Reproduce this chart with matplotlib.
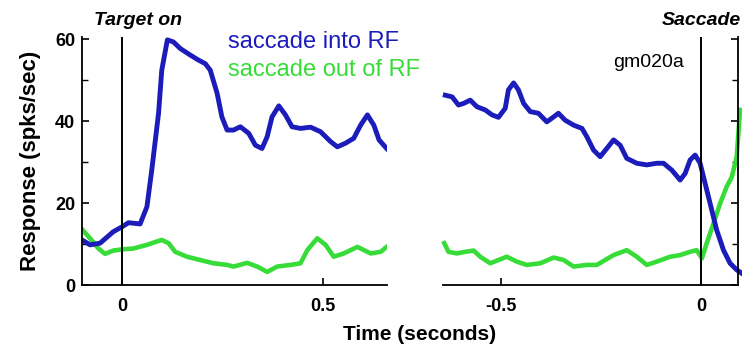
import matplotlib
matplotlib.use("Agg")
import matplotlib.pyplot as plt
from matplotlib.ticker import MultipleLocator

plt.rcParams['font.family'] = ['Liberation Sans', 'DejaVu Sans']

# Aligned on target onset (seconds)
t_target = [-0.10, -0.08, -0.055, -0.022, 0.0, 0.016, 0.045, 0.062, 0.074, 0.091, 0.099,
            0.113, 0.128, 0.145, 0.17, 0.19, 0.2075, 0.22, 0.237, 0.249, 0.262, 0.278,
            0.295, 0.316, 0.3325, 0.349, 0.362, 0.374, 0.391, 0.4075, 0.424, 0.445, 0.47,
            0.495, 0.52, 0.537, 0.5575, 0.578, 0.595, 0.612, 0.628, 0.641, 0.66]
into_target = [11.0, 9.8, 10.2, 13.0, 14.2, 15.2, 14.9, 19.1, 28.0, 41.9, 52.4,
               59.8, 59.3, 57.7, 56.1, 54.9, 54.0, 52.4, 46.8, 41.0, 37.8, 37.8,
               38.6, 37.0, 34.1, 33.3, 36.2, 41.0, 43.7, 41.5, 38.6, 38.2, 38.5,
               37.4, 35.0, 33.7, 34.6, 35.8, 39.0, 41.5, 39.0, 35.4, 33.3]

t_target_out = [-0.10, -0.08, -0.059, -0.0425, -0.022, 0.0, 0.028, 0.062, 0.099, 0.116,
                0.1325, 0.162, 0.195, 0.228, 0.262, 0.278, 0.312, 0.337, 0.362, 0.387,
                0.42, 0.445, 0.462, 0.487, 0.5075, 0.528, 0.553, 0.587, 0.62, 0.645, 0.66]
out_target = [13.6, 11.4, 8.9, 7.6, 8.4, 8.7, 8.9, 9.8, 11.0, 10.2,
              8.1, 6.9, 6.1, 5.3, 4.9, 4.5, 5.4, 4.5, 3.2, 4.5,
              4.9, 5.3, 8.5, 11.4, 9.8, 6.9, 7.7, 9.3, 7.7, 8.1, 9.3]

# Aligned on saccade onset (seconds)
t_sacc = [-0.64, -0.623, -0.607, -0.594, -0.5775, -0.561, -0.54, -0.523, -0.507, -0.49,
          -0.482, -0.469, -0.457, -0.444, -0.4275, -0.407, -0.386, -0.369, -0.357, -0.34,
          -0.319, -0.298, -0.286, -0.269, -0.2525, -0.236, -0.219, -0.2025, -0.186, -0.161,
          -0.136, -0.111, -0.094, -0.073, -0.0525, -0.04, -0.0275, -0.015, -0.0025, 0.01,
          0.0225, 0.039, 0.056, 0.0725, 0.089, 0.101]
into_sacc = [46.3, 45.9, 43.9, 44.3, 45.1, 43.5, 42.7, 41.5, 40.9, 43.1,
             47.6, 49.3, 47.6, 44.3, 42.3, 41.9, 39.8, 41.0, 41.9, 40.2,
             39.0, 38.2, 36.2, 32.9, 31.3, 33.3, 35.4, 34.1, 30.9, 29.7,
             29.3, 29.7, 29.7, 28.0, 25.6, 27.2, 30.5, 31.7, 29.7, 24.8,
             19.9, 13.4, 8.5, 5.3, 3.7, 2.9]

t_sacc_out = [-0.6425, -0.632, -0.611, -0.59, -0.569, -0.5525, -0.5275, -0.507, -0.486,
              -0.461, -0.436, -0.4025, -0.369, -0.344, -0.319, -0.286, -0.261, -0.219,
              -0.186, -0.161, -0.136, -0.111, -0.0775, -0.0525, -0.0275, -0.011, 0.002,
              0.014, 0.031, 0.0475, 0.064, 0.077, 0.089, 0.0975]
out_sacc = [10.2, 8.1, 7.7, 8.1, 8.4, 6.9, 5.3, 6.1, 6.9,
            5.7, 4.9, 5.3, 6.7, 6.1, 4.5, 4.9, 4.9, 7.3,
            8.5, 6.9, 4.9, 5.7, 6.9, 7.3, 8.1, 8.5, 6.5,
            10.2, 15.0, 19.9, 24.0, 26.4, 31.3, 42.7]

left_ticks = [0, 0.5]
left_labels = ['0', '0.5']
right_ticks = [-0.5, 0]
right_labels = ['-0.5', '0']
y_ticks = [0, 20, 40, 60]

BLUE = '#1c1cba'
GREEN = '#38dc38'

fig = plt.figure(figsize=(7.42, 3.51), dpi=100)
ax1 = fig.add_axes([0.1105, 0.188, 0.4106, 0.7066])
ax2 = fig.add_axes([0.5974, 0.188, 0.3976, 0.7066])

for ax in (ax1, ax2):
    ax.set_ylim(0, 60.5)
    ax.spines['top'].set_visible(False)
    for s in ax.spines.values():
        s.set_linewidth(1.3)
    ax.tick_params(direction='in', length=5, width=1.2, labelsize=13, pad=9)
    ax.tick_params(which='minor', direction='in', length=4, width=1.0)
    ax.yaxis.set_minor_locator(MultipleLocator(10))

# Left panel: target onset
ax1.set_xlim(-0.1, 0.66)
ax1.spines['right'].set_visible(False)
ax1.plot(t_target_out, out_target, color=GREEN, lw=3.3, solid_joinstyle='round')
ax1.plot(t_target, into_target, color=BLUE, lw=3.5, solid_joinstyle='round')
ax1.axvline(0, color='black', lw=1.4)
ax1.set_xticks(left_ticks)
ax1.set_xticklabels(left_labels, fontweight='bold')
ax1.set_yticks(y_ticks)
ax1.set_yticklabels([str(v) for v in y_ticks], fontweight='bold')
ax1.tick_params(axis='y', pad=5)
ax1.set_ylabel('Response (spks/sec)', fontsize=16, fontweight='bold', labelpad=10)
ax1.text(0.039, 64.6, 'Target on', ha='center', va='center', fontsize=14,
         fontweight='bold', style='italic')
ax1.text(0.265, 59.3, 'saccade into RF', color=BLUE, ha='left', va='center', fontsize=17)
ax1.text(0.265, 52.4, 'saccade out of RF', color=GREEN, ha='left', va='center', fontsize=17)

# Right panel: saccade onset
ax2.set_xlim(-0.645, 0.093)
ax2.spines['left'].set_visible(False)
ax2.yaxis.tick_right()
ax2.plot(t_sacc_out, out_sacc, color=GREEN, lw=3.3, solid_joinstyle='round', clip_on=False)
ax2.plot(t_sacc, into_sacc, color=BLUE, lw=3.5, solid_joinstyle='round', clip_on=False)
ax2.axvline(0, color='black', lw=1.4)
ax2.set_xticks(right_ticks)
ax2.set_xticklabels(right_labels, fontweight='bold')
ax2.set_yticks(y_ticks)
ax2.tick_params(axis='y', labelright=False, labelleft=False)
ax2.text(-0.1325, 54.4, 'gm020a', ha='center', va='center', fontsize=14)
ax2.text(0.0, 64.6, 'Saccade', ha='center', va='center', fontsize=14,
         fontweight='bold', style='italic')

fig.text(420 / 742, 1 - 335 / 351, 'Time (seconds)', ha='center', va='center',
         fontsize=15, fontweight='bold')

fig.savefig('out.png', dpi=100)
